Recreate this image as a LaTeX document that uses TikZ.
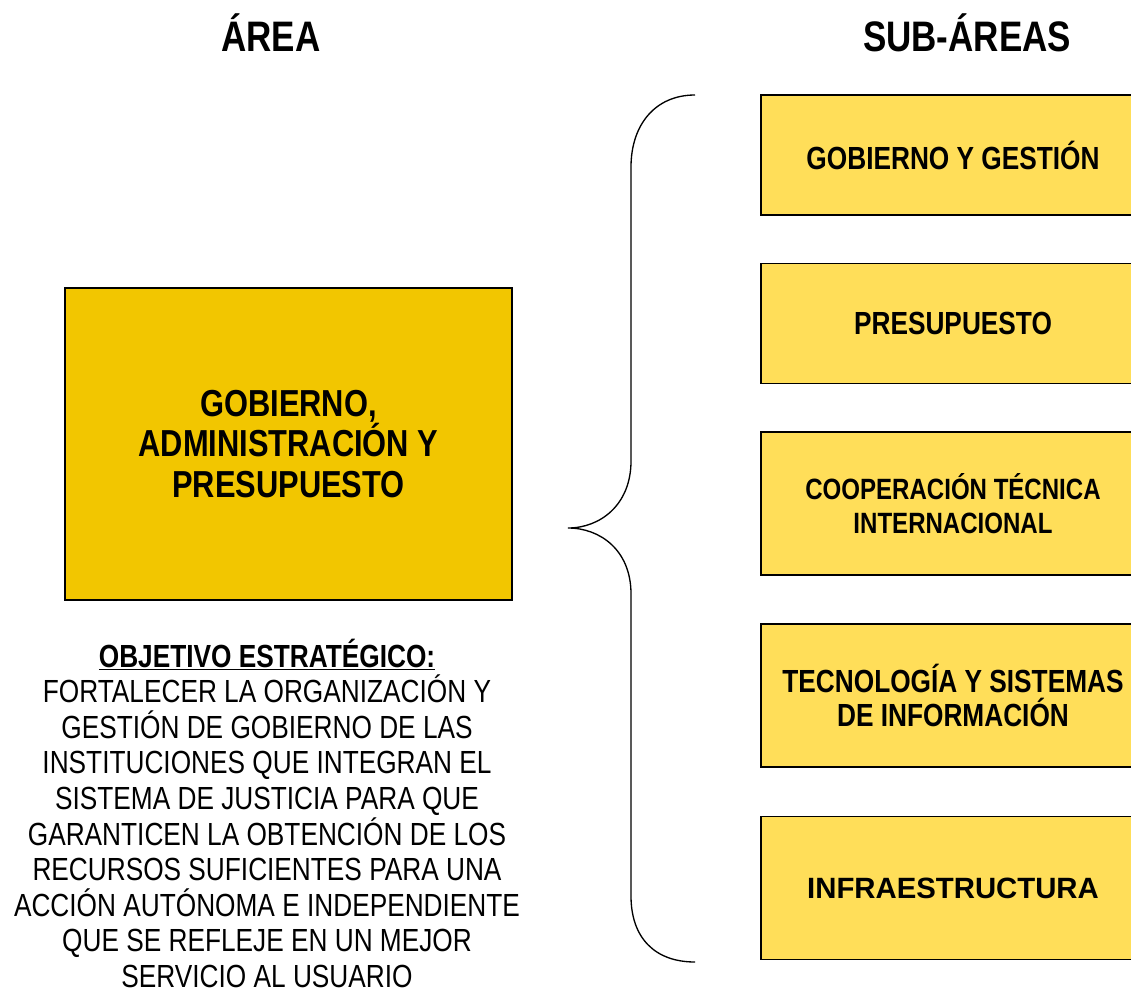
\documentclass[tikz,border=0pt]{standalone}
\usepackage{fontspec}
\setmainfont{Liberation Sans}[FakeStretch=0.82]
\newfontfamily\widefont{Liberation Sans}
\usepackage{xcolor}
\definecolor{areayellow}{RGB}{242,198,0}
\definecolor{subyellow}{RGB}{255,222,89}
\usepackage{tikz}

\begin{document}
\begin{tikzpicture}[x=0.75pt,y=-0.75pt,
every node/.style={black},
title/.style={font=\bfseries\fontsize{32}{36}\selectfont},
areabox/.style={draw, line width=1.1pt, fill=areayellow, minimum width=335pt, minimum height=234pt,
  align=center, font=\bfseries\fontsize{28.2}{30.5}\selectfont},
subbox/.style={draw, line width=1.1pt, fill=subyellow, minimum width=288pt, minimum height=90pt,
  align=center, font=\bfseries\fontsize{24}{26}\selectfont},
tall/.style={minimum height=107.5pt}]
\useasboundingbox (0,0) rectangle (1131,996);
\node[title] (areatitle) at (271,33) {ÁREA};
\node[title] (subtitle) at (967,33) {SUB-ÁREAS};
\node[areabox] (area) at (288.5,444) {GOBIERNO,\\ADMINISTRACIÓN Y\\PRESUPUESTO};
\node[anchor=north, align=center, font=\fontsize{24}{26.7}\selectfont] (objetivo) at (267,634)
  {\textbf{\underline{OBJETIVO ESTRATÉGICO:}}\\FORTALECER LA ORGANIZACIÓN Y\\GESTIÓN DE GOBIERNO DE LAS\\
   INSTITUCIONES QUE INTEGRAN EL\\SISTEMA DE JUSTICIA PARA QUE\\GARANTICEN LA OBTENCIÓN DE LOS\\
   RECURSOS SUFICIENTES PARA UNA\\ACCIÓN AUTÓNOMA E INDEPENDIENTE\\QUE SE REFLEJE EN UN MEJOR\\
   SERVICIO AL USUARIO};
% sub-areas
\node[subbox] (gestion) at (953,155) {GOBIERNO Y GESTIÓN};
\node[subbox] (presupuesto) at (953,323.5) {PRESUPUESTO};
\node[subbox, tall, font=\bfseries\fontsize{22}{25.5}\selectfont] (cooperacion) at (953,503.5) {COOPERACIÓN TÉCNICA\\INTERNACIONAL};
\node[subbox, tall] (tecnologia) at (953,695.5) {TECNOLOGÍA Y SISTEMAS\\DE INFORMACIÓN};
\node[subbox, tall, font=\widefont\bfseries\fontsize{22}{24}\selectfont] (infra) at (953,888) {INFRAESTRUCTURA};
% brace
\coordinate (btop) at (695,95);
\coordinate (btip) at (568,528);
\coordinate (bbot) at (695,962);
\draw[line width=1pt] (btop) .. controls (655,95) and (631,125) .. (631,167) -- (631,461)
  .. controls (631,505) and (600,528) .. (btip)
  .. controls (600,528) and (631,550) .. (631,594) -- (631,896)
  .. controls (631,938) and (655,962) .. (bbot);
\end{tikzpicture}
\end{document}
